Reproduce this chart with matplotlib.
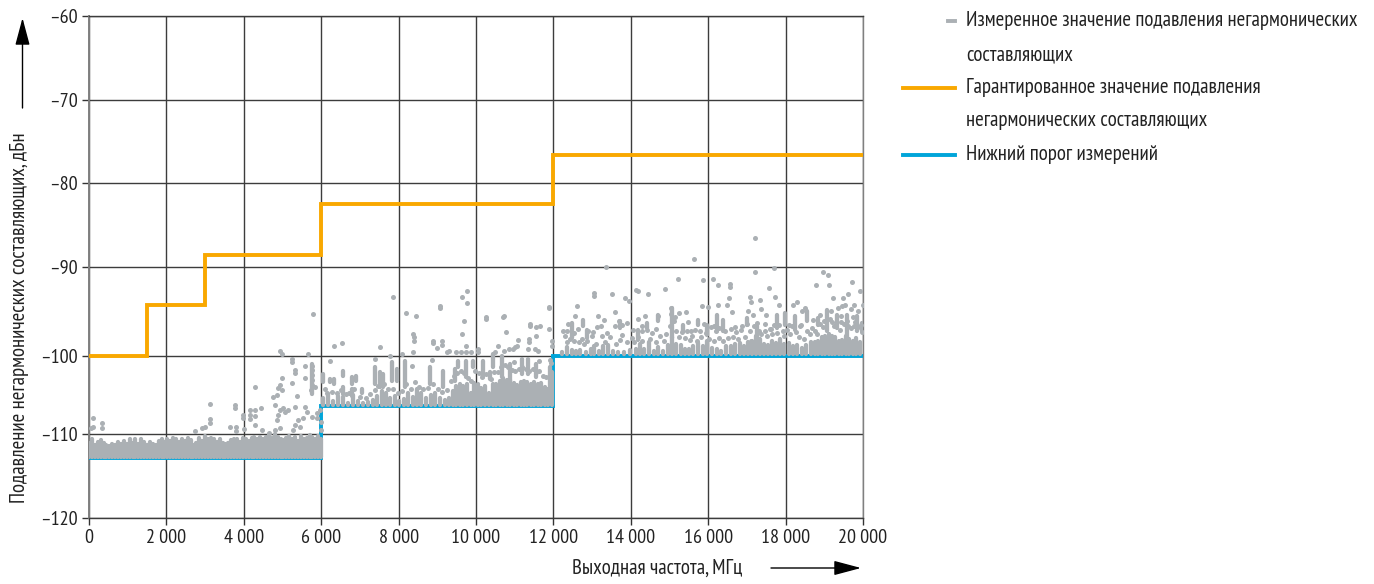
#!/usr/bin/env python3
# -*- coding: utf-8 -*-
import matplotlib
matplotlib.use('Agg')
import matplotlib.pyplot as plt
from matplotlib.lines import Line2D

plt.rcParams['font.family'] = ['PT Sans Narrow', 'Roboto', 'Liberation Sans', 'DejaVu Sans']

#%% data

guarantee_x = [0, 1500, 1500, 3000, 3000, 6000, 6000, 12000, 12000, 20000]
guarantee_y = [-100.6, -100.6, -94.5, -94.5, -88.6, -88.6, -82.5, -82.5, -76.6, -76.6]

floor_x = [0, 6000, 6000, 12000, 12000, 20000]
floor_y = [-112.85, -112.85, -106.6, -106.6, -100.6, -100.6]

#the -100 gridline sits a bit off in the original
y_ticks = [-60, -70, -80, -90, -100.6, -110, -120]
y_tick_labels = ['–60', '–70', '–80', '–90', '–100', '–110', '–120']
x_ticks = [0, 2000, 4000, 6000, 8000, 10000, 12000, 14000, 16000, 18000, 20000]
x_tick_labels = ['0', '2\u2009000', '4\u2009000', '6\u2009000', '8\u2009000', '10\u2009000',
                 '12\u2009000', '14\u2009000', '16\u2009000', '18\u2009000', '20\u2009000']

# merged mass of dots, 0-6 GHz, upper edge per column
low_x = [0, 75, 150, 225, 300, 375, 450, 525, 600, 675,
         750, 825, 900, 975, 1050, 1125, 1200, 1275, 1350, 1425,
         1500, 1575, 1650, 1725, 1800, 1875, 1950, 2025, 2100, 2175,
         2250, 2325, 2400, 2475, 2550, 2625, 2700, 2775, 2850, 2925,
         3000, 3075, 3150, 3225, 3300, 3375, 3450, 3525, 3600, 3675,
         3750, 3825, 3900, 3975, 4050, 4125, 4200, 4275, 4350, 4425,
         4500, 4575, 4650, 4725, 4800, 4875, 4950, 5025, 5100, 5175,
         5250, 5325, 5400, 5475, 5550, 5625, 5700, 5775, 5850, 5925, 6000]
low_top = [-111.0, -110.6, -111.3, -110.9, -110.7, -111.0, -111.3, -111.4, -111.1, -111.3,
           -110.9, -111.1, -110.8, -111.2, -110.6, -111.0, -110.5, -111.1, -110.6, -110.9,
           -111.3, -110.9, -111.1, -111.3, -110.8, -110.6, -110.9, -110.5, -110.8, -110.4,
           -110.6, -110.9, -110.5, -110.8, -110.4, -110.7, -111.3, -111.0, -110.4, -110.8,
           -110.2, -110.5, -110.4, -110.6, -110.9, -110.5, -111.0, -111.2, -111.0, -110.7,
           -110.5, -110.6, -110.9, -110.4, -110.6, -110.8, -110.4, -110.3, -110.6, -110.3,
           -110.5, -110.3, -110.1, -110.4, -110.0, -110.3, -110.6, -110.7, -110.4, -110.2,
           -110.5, -110.3, -110.8, -110.2, -110.5, -110.4, -110.1, -110.3, -110.5, -110.2, -110.5]

# merged dots, 6-12 GHz
mid_x = [6050, 6180, 6300, 6430, 6570, 6690, 6810, 6950, 7080, 7210,
         7340, 7450, 7560, 7670, 7790, 7900, 8020, 8130, 8250, 8360,
         8470, 8590, 8710, 8830, 8950, 9070, 9190, 9300, 9400, 9490,
         9580, 9670, 9760, 9860, 9950, 10040, 10130, 10230, 10330, 10430,
         10520, 10610, 10700, 10790, 10880, 10970, 11060, 11150, 11240, 11330,
         11420, 11510, 11600, 11690, 11780, 11870, 11960]
mid_top = [-105.6, -105.2, -106.0, -105.4, -105.5, -106.2, -105.3, -106.0, -106.2, -106.1,
           -105.9, -105.4, -104.8, -105.0, -105.6, -105.4, -106.0, -105.8, -105.0, -105.5,
           -104.6, -105.1, -105.6, -105.3, -105.1, -105.6, -105.9, -105.7, -104.8, -104.2,
           -104.0, -104.2, -104.0, -105.0, -103.9, -104.0, -104.5, -104.2, -105.0, -104.0,
           -104.0, -103.6, -103.3, -103.5, -103.5, -103.9, -104.1, -103.8, -103.6, -103.7,
           -104.0, -103.8, -104.0, -103.9, -104.4, -104.6, -102.6]

# merged dots, 12-20 GHz
high_x = [12220, 12340, 12470, 12580, 12700, 12830, 12960, 13060, 13180, 13290,
          13420, 13540, 13670, 13820, 13990, 14130, 14240, 14350, 14470, 14590,
          14700, 14830, 14960, 15060, 15180, 15290, 15400, 15510, 15620, 15740,
          15860, 15970, 16090, 16220, 16340, 16460, 16580, 16700, 16820, 16930,
          17040, 17140, 17230, 17330, 17440, 17550, 17660, 17760, 17860, 17970,
          18080, 18190, 18300, 18420, 18540, 18650, 18750, 18850, 18940, 19030,
          19110, 19190, 19280, 19370, 19460, 19550, 19640, 19740, 19830, 19920]
high_top = [-100.2, -99.6, -99.9, -100.0, -99.9, -100.1, -99.8, -99.4, -100.0, -99.5,
            -99.3, -100.0, -100.1, -100.1, -99.9, -99.8, -99.2, -99.8, -99.0, -100.0,
            -99.6, -100.0, -99.3, -98.4, -99.2, -99.3, -99.8, -99.8, -99.5, -99.1,
            -99.5, -98.9, -99.7, -99.8, -100.0, -99.5, -99.5, -99.2, -99.1, -99.5,
            -99.0, -98.8, -98.2, -98.6, -99.2, -99.3, -98.9, -99.1, -98.6, -99.2,
            -99.1, -99.4, -99.3, -99.7, -99.3, -99.0, -99.0, -98.9, -98.4, -98.2,
            -98.0, -98.2, -98.4, -98.9, -98.7, -98.3, -98.6, -98.9, -98.5, -99.0]

# short vertical runs of dots above the mass
run_x = [6056, 6228, 6331, 6555, 6572, 6788, 6788, 6891, 7046, 7390, 7520, 7606, 7821, 7950, 8166,
         8812, 9139, 9458, 9544, 9733, 9931, 10190, 10362, 10448, 10663, 10879, 11180, 11352, 11551, 11912,
         12472, 12756, 12860, 13721, 14195, 14410, 14712, 15056, 15357, 15745, 15960, 16219, 16391, 16994,
         17252, 17786, 17985, 18243, 18544, 18846, 19061, 19320, 19578, 19836, 19965, 5754]
run_top = [-102.8, -103.4, -103.4, -102.4, -104.4, -103.2, -104.6, -103.0, -104.6, -102.0, -102.6, -102.8, -101.4, -102.2, -101.2,
           -102.0, -102.4, -102.2, -101.2, -101.2, -101.2, -101.2, -102.6, -100.4, -100.6, -101.6, -101.0, -101.0, -101.6, -102.0,
           -96.7, -96.3, -97.5, -96.5, -97.5, -96.7, -95.7, -94.9, -96.9, -96.3, -96.9, -95.7, -96.3, -96.1,
           -97.1, -95.7, -95.5, -95.9, -95.3, -96.1, -95.1, -95.7, -95.7, -95.9, -96.7, -101.6]
run_bottom = [-103.8, -103.8, -104.0, -103.0, -105.2, -104.0, -105.4, -103.6, -105.0, -104.0, -104.4, -104.4, -103.6, -103.6, -104.4,
              -104.0, -104.4, -103.6, -102.0, -103.2, -102.0, -103.2, -103.4, -102.0, -103.2, -103.6, -102.8, -102.8, -103.2, -104.4,
              -98.5, -97.0, -98.5, -97.3, -98.7, -97.3, -96.5, -98.5, -97.7, -96.9, -98.1, -97.7, -97.7, -96.9,
              -100.1, -97.3, -96.9, -97.5, -96.5, -96.9, -97.7, -97.3, -98.5, -97.7, -97.7, -105.2]

# single dots that stand apart
dots_x = [95, 43, 95, 328, 345, 3127, 3127, 3127, 2998, 2912, 2740, 3773, 3773, 3644, 3790, 3790, 3971, 3971, 4005,
          4160, 4160, 4160, 4290, 4290, 4290, 4290, 4445, 4462, 4660, 4763, 4806, 4850, 4893, 4935, 4979, 4979, 4935,
          4979, 4867, 4893, 4935, 5022, 5065, 5151, 4806, 4935, 5254, 5254, 5323, 5323, 5254, 5384, 5323, 5323, 5409,
          5582, 5582, 5650, 5754, 5754, 5754, 5754, 5754, 5736, 5840, 5582, 5625, 5538, 5754, 5883, 5883, 5969, 5986,
          5995, 5452, 5280,
          5797, 6331, 6529, 7847, 7528, 6228, 8192, 8441, 9070, 9070, 9639, 9759, 9759, 9682, 9639, 10250, 10250,
          10689, 10724, 10776, 11404, 11404, 11551, 11654, 11895, 11895, 11551, 11378, 11378, 11077, 11008, 11070,
          8381, 8407, 8407, 8898, 8898, 9130, 9130, 8984, 9742, 9242, 9311, 9484, 9604, 9742, 9863, 10060, 10060,
          10577, 10491, 10724, 10853, 10965, 11352, 11525, 11611, 11956, 11956, 12343, 12386, 7778, 8097, 8381, 8855, 7390, 8338,
          13351, 15642, 17201, 17201, 17700, 15220, 15866, 16115, 16262, 16563, 16563, 14875, 14135, 14195, 14453,
          13058, 13058, 13514, 13850, 13954, 12601, 11895, 13583, 13153, 13221, 13316, 12558, 18786, 18958, 19096,
          19113, 19716, 19931, 17580, 17718, 17838, 18303, 18183, 18501, 18415, 19234, 19492, 19621, 19535, 19449,
          19767, 19363, 17080, 17097, 17339, 17364, 17494, 17166, 17037, 16537, 16477, 16262, 15995, 15840, 15418,
          15237, 15048, 16615, 14703, 14376, 14186, 13687, 13770, 13894,
          12240, 12520, 12640, 12900, 13120, 13600, 13760, 14060, 14290, 14640, 15130, 15470, 15560, 16150, 16290,
          16690, 16880, 17480, 17620, 18100, 18360, 18700, 18900, 19170, 19700, 19880, 19990]
dots_y = [-108.1, -109.3, -109.1, -108.6, -109.2, -106.4, -108.2, -108.7, -109.1, -109.3, -109.6, -106.5, -106.9, -109.1, -109.1, -109.6, -107.7, -108.1, -109.4,
          -107.1, -107.7, -108.2, -104.3, -107.1, -107.8, -108.9, -106.9, -109.5, -109.9, -105.5, -106.5, -105.3, -104.5, -100.0, -100.4, -103.3, -104.1,
          -104.7, -108.3, -107.7, -107.1, -106.9, -107.3, -107.1, -109.5, -109.3, -101.0, -101.4, -102.3, -102.7, -103.9, -105.4, -106.7, -108.9, -108.3,
          -101.8, -103.3, -100.4, -101.8, -102.3, -102.9, -103.5, -104.1, -104.7, -104.3, -106.7, -107.3, -108.0, -107.9, -107.5, -108.1, -107.1, -108.5,
          -109.5, -109.1, -109.5,
          -95.6, -99.5, -99.1, -93.6, -99.6, -101.2, -95.5, -95.9, -94.7, -94.9, -93.6, -92.9, -94.3, -96.4, -98.0, -96.0, -96.2,
          -96.0, -95.8, -97.8, -96.8, -97.1, -97.2, -97.1, -94.9, -97.4, -98.3, -98.6, -99.0, -98.7, -99.6, -99.4,
          -98.0, -98.4, -98.8, -98.8, -99.1, -98.9, -99.3, -99.7, -99.5, -100.2, -100.0, -100.2, -100.2, -100.2, -100.1, -99.8, -100.2,
          -99.5, -100.2, -100.0, -99.8, -99.8, -99.8, -99.8, -100.0, -98.8, -99.4, -99.0, -96.8, -100.6, -100.4, -100.2, -101.1, -101.0, -101.8,
          -90.0, -89.0, -86.5, -90.6, -90.1, -91.4, -91.6, -91.4, -92.2, -92.0, -92.4, -92.6, -92.7, -92.9, -93.2,
          -93.1, -93.5, -93.2, -93.7, -94.1, -94.7, -94.8, -95.4, -95.9, -97.0, -96.3, -95.9, -92.2, -90.6, -91.0,
          -92.2, -91.8, -92.9, -92.5, -93.6, -94.6, -94.2, -94.5, -94.9, -95.3, -93.7, -93.7, -93.2, -94.5, -94.7,
          -94.5, -94.9, -93.6, -94.2, -93.9, -95.0, -95.7, -95.7, -95.3, -93.7, -94.5, -94.5, -94.8, -94.7, -95.4,
          -95.5, -94.9, -95.4, -95.9, -95.8, -96.2, -96.5, -96.9, -96.7,
          -97.6, -97.9, -97.4, -97.7, -97.2, -97.0, -98.1, -97.5, -97.1, -97.4, -96.0, -96.6, -97.6, -97.0, -97.3,
          -97.2, -97.0, -96.8, -97.4, -96.9, -97.1, -96.3, -95.7, -95.2, -95.0, -95.3, -94.6]

# loose dots inside the clouds above the merged columns
cloud_x = [6090, 6150, 6270, 6400, 6500, 6640, 6730, 6850, 7010, 7150,
           7270, 7400, 7480, 7620, 7730, 7850, 7990, 8080, 8190, 8310,
           8420, 8520, 8640, 8770, 8880, 9010, 9120, 9240, 9350, 9440,
           9520, 9600, 9700, 9790, 9880, 9980, 10070, 10160, 10260, 10380,
           10470, 10560, 10640, 10740, 10820, 10920, 11010, 11100, 11200, 11280,
           11380, 11460, 11550, 11640, 11730, 11810, 11900, 11940, 11620, 10970,
           12290, 12360, 12420, 12490, 12540, 12650, 12730, 12800, 12880, 12990,
           13030, 13110, 13250, 13340, 13390, 13470, 13630, 13720, 13900, 14030,
           14090, 14180, 14280, 14300, 14420, 14500, 14560, 14660, 14760, 14860,
           14920, 15000, 15030, 15110, 15170, 15240, 15320, 15390, 15450, 15530,
           15580, 15650, 15700, 15780, 15810, 15900, 15940, 16020, 16070, 16160,
           16190, 16280, 16370, 16430, 16510, 16600, 16640, 16720, 16780, 16860,
           16950, 17000, 17090, 17110, 17180, 17260, 17300, 17370, 17470, 17530,
           17600, 17640, 17710, 17790, 17830, 17920, 17950, 18030, 18110, 18160,
           18260, 18340, 18390, 18470, 18560, 18620, 18690, 18770, 18810, 18880,
           18960, 19000, 19070, 19140, 19210, 19240, 19310, 19400, 19430, 19510,
           19590, 19610, 19680, 19760, 19800, 19870, 19950, 19970, 19740, 19430]
cloud_y = [-104.6, -105.0, -104.9, -105.0, -104.7, -105.2, -105.0, -104.6, -105.5, -105.6,
           -105.2, -104.7, -104.2, -104.0, -104.6, -104.6, -105.0, -104.8, -104.0, -104.6,
           -103.8, -104.4, -104.6, -104.5, -104.0, -104.6, -104.9, -104.7, -103.6, -103.0,
           -102.7, -102.4, -102.7, -103.3, -103.6, -102.4, -102.7, -103.1, -102.8, -103.4,
           -102.5, -102.6, -102.0, -101.7, -102.0, -102.3, -102.4, -102.2, -101.9, -102.2,
           -102.4, -102.2, -102.5, -102.4, -103.0, -103.1, -101.1, -101.5, -101.2, -101.4,
           -98.3, -97.6, -98.6, -98.0, -98.9, -99.0, -98.6, -99.2, -98.9, -98.2,
           -97.8, -99.2, -98.2, -99.0, -97.9, -98.4, -99.2, -98.7, -99.0, -98.5,
           -99.0, -98.4, -97.6, -98.8, -97.5, -98.6, -97.9, -99.0, -98.2, -98.9,
           -98.0, -97.0, -95.6, -96.4, -97.6, -98.4, -97.8, -98.5, -97.6, -98.7,
           -98.2, -97.5, -98.8, -97.7, -98.4, -96.8, -97.9, -98.6, -97.2, -98.8,
           -97.6, -98.5, -98.9, -97.6, -98.5, -97.4, -98.4, -97.8, -98.6, -97.5,
           -98.4, -96.8, -97.7, -98.8, -97.0, -96.7, -97.6, -98.0, -97.6, -98.2,
           -97.4, -98.0, -96.9, -97.9, -96.9, -97.6, -98.2, -97.5, -98.0, -97.0,
           -97.8, -98.4, -96.9, -98.6, -97.6, -98.0, -97.3, -97.6, -98.0, -96.8,
           -97.2, -96.5, -96.3, -96.2, -96.6, -97.0, -96.8, -97.5, -96.6, -96.8,
           -96.4, -97.0, -97.3, -97.0, -96.6, -97.2, -96.9, -97.8, -96.0, -95.9]

low_bottom = -112.75
mid_bottom = -106.5
high_bottom = -100.4

legend_rows = ['Измеренное значение подавления негармонических', 'составляющих',
               'Гарантированное значение подавления', 'негармонических составляющих',
               'Нижний порог измерений']

dot_color = '#ABB0B4'
orange = '#F9A800'
blue = '#00A5D9'

#%% make figure
W, H = 1374, 584
fig = plt.figure(figsize=(W / 100, H / 100), dpi=100, facecolor='white')
ax = fig.add_axes([89 / W, 1 - 518 / H, (863 - 89) / W, (518 - 16) / H])

ax.set_xlim(0, 20000)
ax.set_ylim(-120, -60)

ax.set_xticks(x_ticks)
ax.set_xticklabels(x_tick_labels, fontsize=14.5)
ax.set_yticks(y_ticks)
ax.set_yticklabels(y_tick_labels, fontsize=14.5)
ax.tick_params(length=5, width=1, color='#333333', pad=3, labelcolor='#222222')
ax.grid(True, color='#3c3c3c', linewidth=1)
ax.set_axisbelow(True)
for side in ax.spines:
    ax.spines[side].set_color('#3c3c3c')
    ax.spines[side].set_linewidth(1)
ax.spines['left'].set_color('#808080')
ax.spines['left'].set_linewidth(1.4)
ax.spines['right'].set_color('#808080')

ax.plot(guarantee_x, guarantee_y, color=orange, lw=2.8, solid_joinstyle='miter', zorder=3)
ax.plot(floor_x, floor_y, color=blue, lw=2.8, solid_joinstyle='miter', zorder=3)

#columns of merged dots and the loose dots
dot_lw = 3.1
ax.vlines(low_x, low_bottom, low_top, color=dot_color, lw=dot_lw, capstyle='round', zorder=4)
ax.vlines(mid_x, mid_bottom, mid_top, color=dot_color, lw=dot_lw, capstyle='round', zorder=4)
ax.vlines(high_x, high_bottom, high_top, color=dot_color, lw=dot_lw, capstyle='round', zorder=4)
ax.vlines(run_x, run_bottom, run_top, color=dot_color, lw=dot_lw, capstyle='round', zorder=4)
ax.scatter(dots_x, dots_y, s=13, color=dot_color, linewidths=0, zorder=4)
ax.scatter(cloud_x, cloud_y, s=13, color=dot_color, linewidths=0, zorder=4)

#%% axis texts and arrows
fig.text(20 / W, 1 - 318 / H, 'Подавление негармонических составляющих, дБн', rotation=90,
         fontsize=15, color='#222222', ha='center', va='center')
fig.text(657 / W, 1 - 568 / H, 'Выходная частота, МГц', fontsize=15, color='#222222',
         ha='center', va='center')

arrow = dict(arrowstyle='-|>,head_length=1.2,head_width=0.32', color='black', lw=1,
             shrinkA=0, shrinkB=0, mutation_scale=14)
ax.annotate('', xy=(22.5, H - 18), xytext=(22.5, H - 108), xycoords='figure pixels',
            textcoords='figure pixels', arrowprops=arrow)
ax.annotate('', xy=(861, H - 568), xytext=(771, H - 568), xycoords='figure pixels',
            textcoords='figure pixels', arrowprops=arrow)

#%% legend, placed by hand because of the wide line spacing
row_y = [21, 55, 88, 121, 155]
for text, y in zip(legend_rows, row_y):
    fig.text(966 / W, 1 - y / H, text, fontsize=15, color='#222222', ha='left', va='center')

fig.add_artist(Line2D([948 / W, 955 / W], [1 - 21 / H] * 2, color=dot_color, lw=2.8))
fig.add_artist(Line2D([903 / W, 955 / W], [1 - 88 / H] * 2, color=orange, lw=2.8))
fig.add_artist(Line2D([903 / W, 955 / W], [1 - 155 / H] * 2, color=blue, lw=2.8))

fig.savefig('out.png', dpi=100)
